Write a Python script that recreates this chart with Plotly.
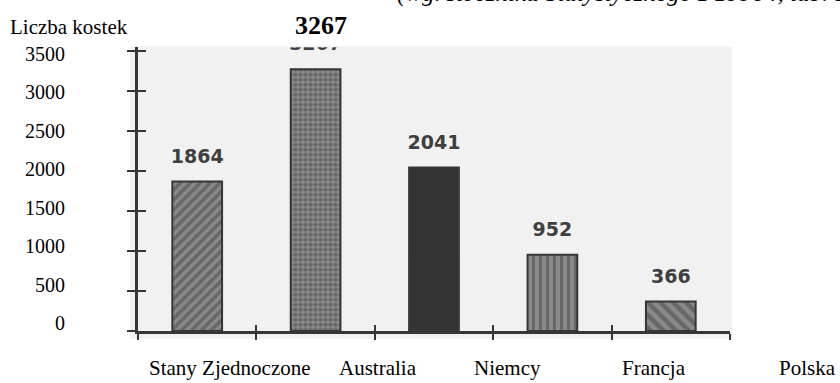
import plotly.graph_objects as go

# Data: number of cubes per country
countries = ["Stany Zjednoczone", "Australia", "Niemcy", "Francja", "Polska"]
cube_counts = [1864, 3267, 2041, 952, 366]
y_tick_values = [0, 500, 1000, 1500, 2000, 2500, 3000, 3500]
y_tick_labels = [str(v) for v in y_tick_values]

axis_title = "Liczba kostek"
source_note = "(wg. Rocznika Statystycznego z 1996 r, tab. 1)"

# Canvas geometry (pixels)
W, H = 840, 383


def fx(px):
    return px / W


def fy(px):
    return 1 - px / H


# Plot area in pixels
PLOT_L, PLOT_R = 138, 730
PLOT_TOP, PLOT_BOT = 44, 333
Y_TOP_TICK_PX = 47.4          # pixel row of the 3500 tick
Y_MAX_TICK = 3500
px_per_unit = (PLOT_BOT - Y_TOP_TICK_PX) / Y_MAX_TICK
y_range = [0, Y_MAX_TICK + (Y_TOP_TICK_PX - PLOT_TOP) / px_per_unit]

# Label column on the left uses its own (slightly tighter) scale
LAB_ZERO_PX, LAB_TOP_PX = 325, 51
lab_ppu = (LAB_ZERO_PX - LAB_TOP_PX) / Y_MAX_TICK
lab_range = [-(PLOT_BOT - LAB_ZERO_PX) / lab_ppu,
             Y_MAX_TICK + (LAB_TOP_PX - PLOT_TOP) / lab_ppu]

INK = "#363636"
SCAN_BG = "#f1f1f1"

# Bar fill styles
shapes = ["/", ".", "", "|", "\\"]
fg = ["#3a3a3a", "#f6f6f6", "#333333", "#2e2e2e", "#333333"]
bg = ["#e4e4e4", "#464646", "#333333", "#f2f2f2", "#ececec"]
sizes = [7, 5, 8, 7, 9]
solid = [0.5, 0.55, 0.5, 0.42, 0.5]

fig = go.Figure()

fig.add_trace(go.Bar(
    x=countries,
    y=cube_counts,
    width=0.42,
    marker=dict(
        color=["#8a8a8a", "#8a8a8a", "#333333", "#8a8a8a", "#8a8a8a"],
        line=dict(color=INK, width=2),
        pattern=dict(shape=shapes, fgcolor=fg, bgcolor=bg,
                     size=sizes, solidity=solid, fillmode="overlay"),
    ),
    hoverinfo="skip",
))

# Value labels above the bars (clipped at the top edge of the plot area)
fig.add_trace(go.Scatter(
    x=countries,
    y=cube_counts,
    mode="markers+text",
    text=[str(v) for v in cube_counts],
    textposition="top center",
    marker=dict(size=21, opacity=0),
    textfont=dict(family="DejaVu Sans", size=19, color="#3f3f3f", weight="bold"),
    cliponaxis=True,
    hoverinfo="skip",
))

# Empty traces so the helper axes (crossing ticks, label column) are drawn
fig.add_trace(go.Scatter(x=[], y=[], xaxis="x2", yaxis="y", hoverinfo="skip"))
fig.add_trace(go.Scatter(x=[], y=[], xaxis="x", yaxis="y3", hoverinfo="skip"))
fig.add_trace(go.Scatter(x=[], y=[], xaxis="x", yaxis="y2", hoverinfo="skip"))

fig.update_layout(
    width=W,
    height=H,
    margin=dict(l=0, r=0, t=0, b=0),
    paper_bgcolor="white",
    plot_bgcolor="rgba(0,0,0,0)",
    showlegend=False,
    xaxis=dict(
        domain=[fx(PLOT_L), fx(PLOT_R)],
        type="category",
        range=[-0.5, 4.5],
        tickson="boundaries",
        ticks="outside",
        ticklen=6,
        tickwidth=2,
        tickcolor=INK,
        showticklabels=False,
        showline=True,
        linecolor=INK,
        linewidth=2.5,
        showgrid=False,
        zeroline=False,
        fixedrange=True,
    ),
    xaxis2=dict(
        overlaying="x",
        anchor="y",
        side="bottom",
        type="linear",
        range=[-0.5, 4.5],
        tickmode="linear",
        tick0=-0.5,
        dtick=1,
        ticks="inside",
        ticklen=6,
        tickwidth=2,
        tickcolor=INK,
        showticklabels=False,
        showline=False,
        showgrid=False,
        zeroline=False,
        fixedrange=True,
    ),
    yaxis=dict(
        domain=[fy(PLOT_BOT), fy(PLOT_TOP)],
        range=y_range,
        tickmode="array",
        tickvals=y_tick_values,
        ticks="outside",
        ticklen=8,
        tickwidth=2,
        tickcolor=INK,
        showticklabels=False,
        showline=True,
        linecolor=INK,
        linewidth=2.5,
        showgrid=False,
        zeroline=False,
        fixedrange=True,
    ),
    yaxis3=dict(
        overlaying="y",
        anchor="x",
        range=y_range,
        tickmode="array",
        tickvals=y_tick_values,
        ticks="inside",
        ticklen=8,
        tickwidth=2,
        tickcolor=INK,
        showticklabels=False,
        showline=False,
        showgrid=False,
        zeroline=False,
        fixedrange=True,
    ),
    yaxis2=dict(
        overlaying="y",
        anchor="free",
        position=fx(65),
        side="left",
        range=lab_range,
        tickmode="array",
        tickvals=y_tick_values,
        ticktext=y_tick_labels,
        ticks="",
        showline=False,
        showgrid=False,
        zeroline=False,
        fixedrange=True,
        tickfont=dict(family="Liberation Serif", size=20, color="black"),
    ),
    shapes=[
        dict(type="rect", xref="paper", yref="paper", layer="below",
             x0=fx(130), x1=fx(732), y0=fy(341), y1=fy(43),
             fillcolor=SCAN_BG, line=dict(width=0)),
    ],
)

annotations = [
    dict(text=axis_title, xref="paper", yref="paper", x=fx(8), y=fy(23),
         xanchor="left", yanchor="middle", showarrow=False,
         font=dict(family="Liberation Serif", size=21, color="black")),
    dict(text="<b>%d</b>" % cube_counts[1], xref="x", yref="paper",
         x=countries[1], xshift=5, y=fy(22), xanchor="center", yanchor="middle",
         showarrow=False,
         font=dict(family="Liberation Serif", size=26, color="black")),
    dict(text=source_note, xref="paper", yref="paper", x=fx(395), y=fy(-11),
         xanchor="left", yanchor="middle", showarrow=False,
         font=dict(family="Liberation Serif", size=25, color="black", style="italic")),
]

# Country names along the bottom edge
label_centers_px = [230, 378, 508, 654, 807]
for name, cx in zip(countries, label_centers_px):
    annotations.append(dict(
        text=name, xref="paper", yref="paper", x=fx(cx), y=fy(371),
        xanchor="center", yanchor="middle", showarrow=False,
        font=dict(family="Liberation Serif", size=21, color="black"),
    ))

fig.update_layout(annotations=annotations)

fig.write_html("out.html")
